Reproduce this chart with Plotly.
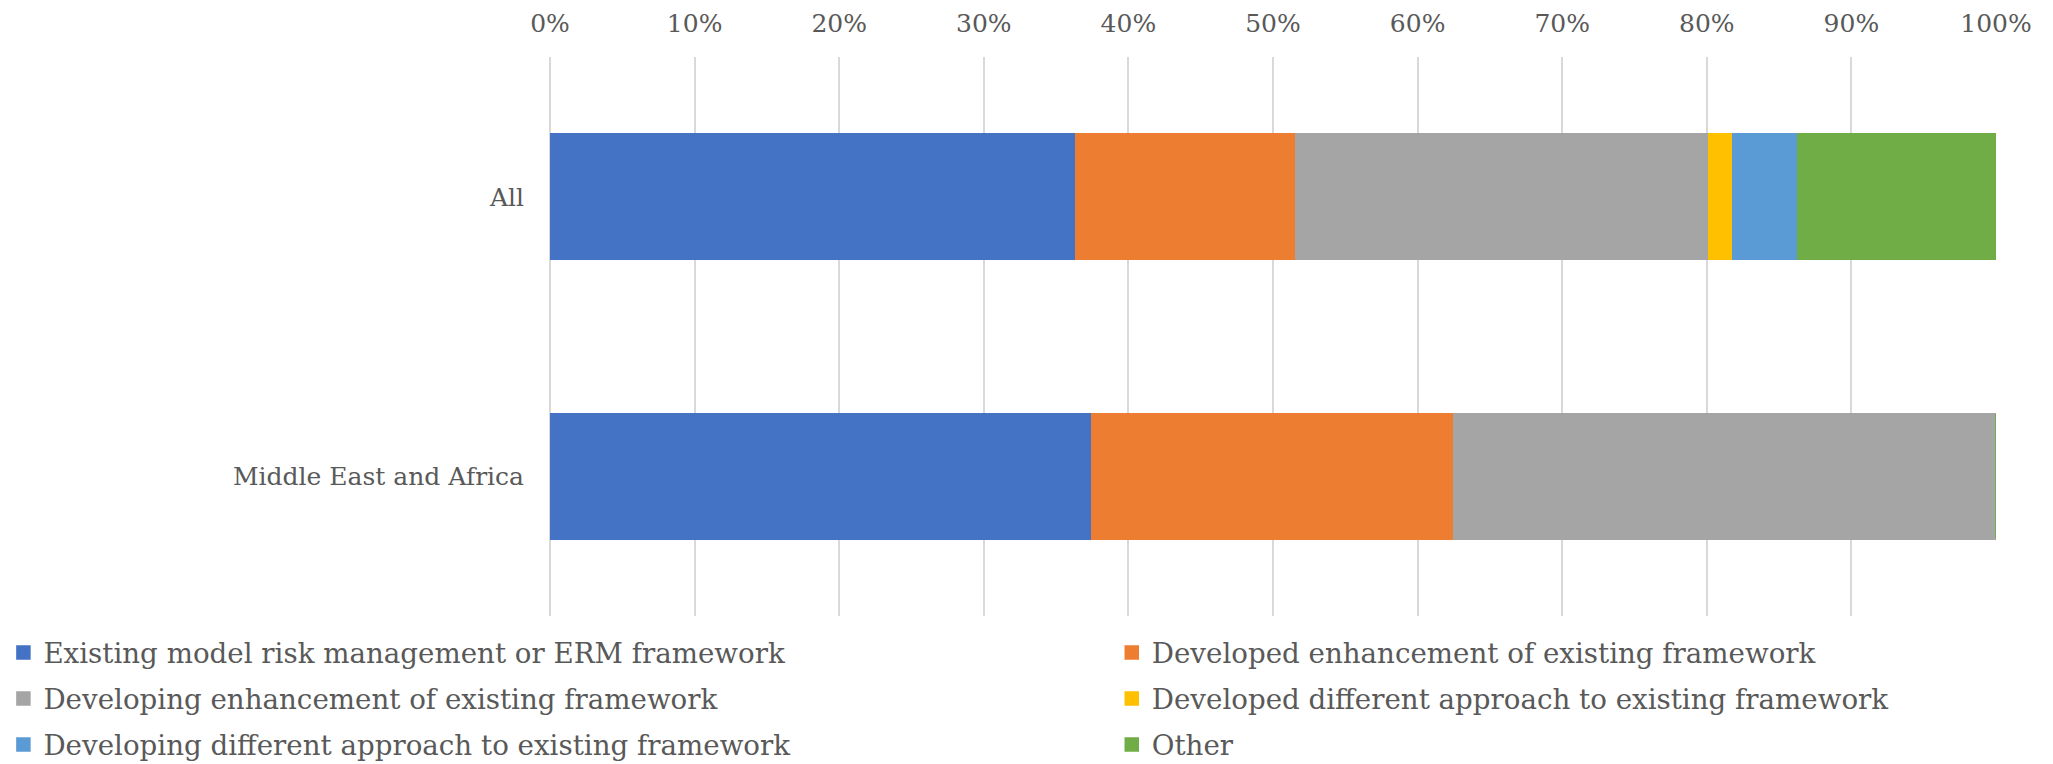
import plotly.graph_objects as go

# Survey breakdown by region (percent of respondents)
regions = ["All", "Middle East and Africa"]

series_names = [
    "Existing model risk management or ERM framework",
    "Developed enhancement of existing framework",
    "Developing enhancement of existing framework",
    "Developed different approach to existing framework",
    "Developing different approach to existing framework",
    "Other",
]

existing_framework = [36.4, 37.5]
developed_enhancement = [15.2, 25.0]
developing_enhancement = [28.6, 37.5]
developed_different = [1.6, 0.0]
developing_different = [4.5, 0.0]
other = [13.7, 0.0]

series_values = [
    existing_framework,
    developed_enhancement,
    developing_enhancement,
    developed_different,
    developing_different,
    other,
]

series_colors = ["#4472C4", "#ED7D31", "#A5A5A5", "#FFC000", "#5B9BD5", "#70AD47"]

# legend entries alternate between a left and a right column
legend_column = ["legend", "legend2", "legend", "legend2", "legend", "legend2"]

x_ticks = list(range(0, 101, 10))
x_tick_labels = [f"{t}%" for t in x_ticks]

FONT = "DejaVu Serif"
TEXT_COLOR = "#595959"

fig = go.Figure()
for i, (name, vals, color, leg) in enumerate(
    zip(series_names, series_values, series_colors, legend_column)
):
    fig.add_trace(
        go.Bar(
            y=regions,
            x=vals,
            name=name,
            orientation="h",
            marker=dict(color=color, line=dict(color=color, width=2.5)),
            width=0.445,
            legend=leg,
            legendgroup=f"g{i}",
            hoverinfo="x+y+name",
        )
    )

legend_common = dict(
    orientation="v",
    yanchor="top",
    xanchor="left",
    font=dict(family=FONT, size=27.7, color=TEXT_COLOR),
    itemwidth=30,
    tracegroupgap=7,
    bgcolor="rgba(0,0,0,0)",
    borderwidth=0,
)

fig.update_layout(
    barmode="stack",
    width=2053,
    height=764,
    margin=dict(l=550, r=57, t=57, b=148, pad=0, autoexpand=False),
    paper_bgcolor="white",
    plot_bgcolor="white",
    font=dict(family=FONT, color=TEXT_COLOR, size=27),
    showlegend=True,
    legend=dict(legend_common, x=-0.378, y=-0.0215),
    legend2=dict(legend_common, x=0.3885, y=-0.0215),
    xaxis=dict(
        side="top",
        range=[0, 100],
        tickmode="array",
        tickvals=x_ticks,
        ticktext=x_tick_labels,
        showgrid=True,
        gridcolor="#D9D9D9",
        gridwidth=1.5,
        zeroline=True,
        zerolinecolor="#D9D9D9",
        zerolinewidth=1.5,
        showline=False,
        ticks="",
        ticklabelstandoff=19,
        tickfont=dict(family=FONT, size=25, color=TEXT_COLOR),
        fixedrange=True,
    ),
    yaxis=dict(
        autorange="reversed",
        showgrid=False,
        zeroline=False,
        showline=False,
        ticks="",
        ticklabelstandoff=25,
        tickfont=dict(family=FONT, size=25, color=TEXT_COLOR),
        fixedrange=True,
    ),
)

fig.write_html("out.html")
